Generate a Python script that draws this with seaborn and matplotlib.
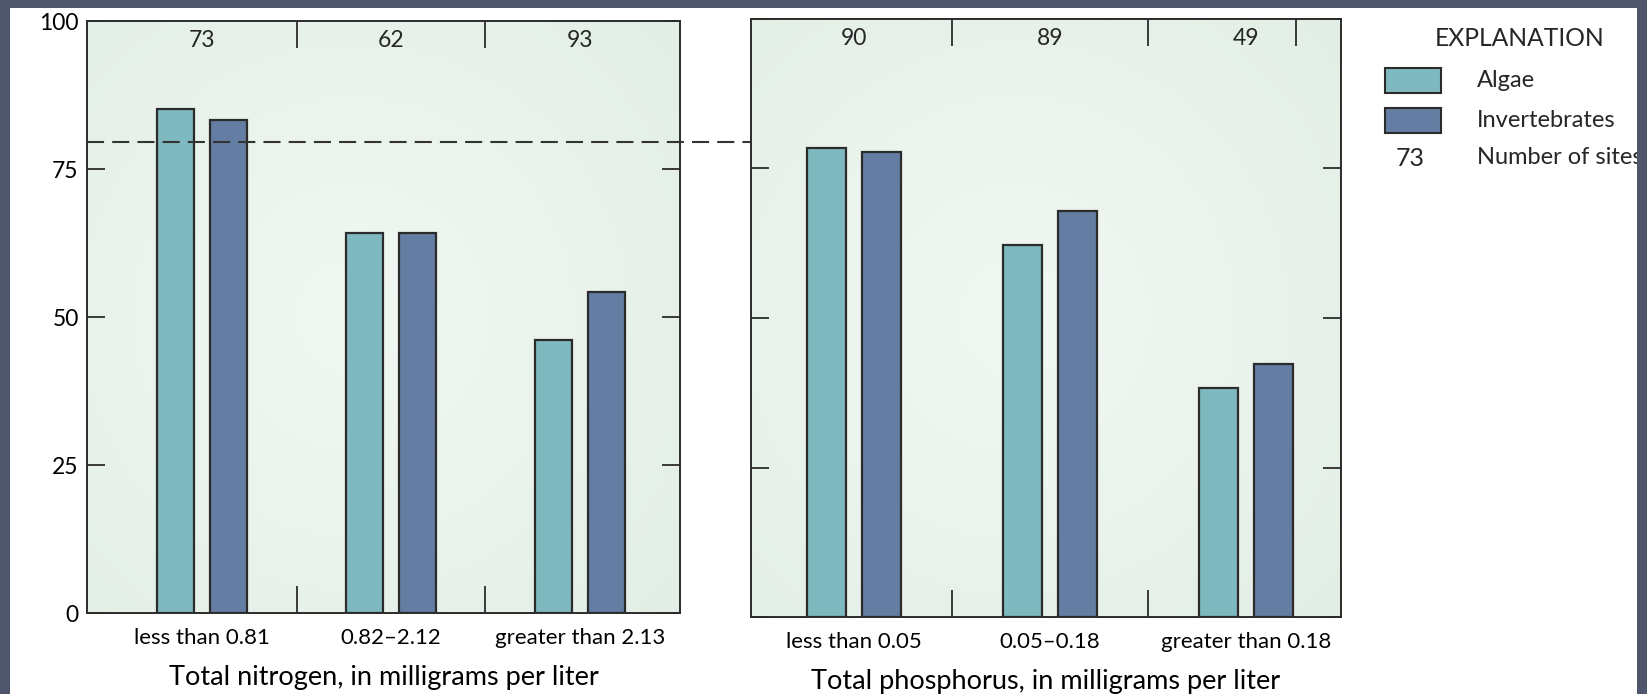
import numpy as np
import pandas as pd
import matplotlib.pyplot as plt
import seaborn as sns
from matplotlib.colors import LinearSegmentedColormap
from matplotlib.patches import Rectangle

# values (percent of sites)
nitrogen_classes = ["less than 0.81", "0.82–2.12", "greater than 2.13"]
nitrogen_sites = [73, 62, 93]
nitrogen_algae = [85.1, 64.2, 46.1]
nitrogen_invert = [83.3, 64.2, 54.2]

phosphorus_classes = ["less than 0.05", "0.05–0.18", "greater than 0.18"]
phosphorus_sites = [90, 89, 49]
phosphorus_algae = [78.4, 62.2, 38.3]
phosphorus_invert = [77.8, 67.9, 42.3]

threshold = 79.6
groups = ["Algae", "Invertebrates"]
colors = {"Algae": "#7fb9c0", "Invertebrates": "#647ea3"}
ink = "#2b2b2b"


def long_table(classes, algae, invert):
    return pd.DataFrame({
        "class": classes * 2,
        "group": [groups[0]] * len(classes) + [groups[1]] * len(classes),
        "percent": algae + invert,
    })


sns.set_theme(style="white")
plt.rcParams["font.family"] = ["Lato", "DejaVu Sans"]

W, H = 1647, 694
fig = plt.figure(figsize=(W / 100, H / 100), dpi=100)
fig.patch.set_facecolor("white")


def px_axes(x0, y0, x1, y1):
    return fig.add_axes([x0 / W, 1 - y1 / H, (x1 - x0) / W, (y1 - y0) / H])


ax_n = px_axes(87, 21, 680, 613)
ax_p = px_axes(751, 19, 1341, 617)

bg_cmap = LinearSegmentedColormap.from_list("bg", ["#f2f8f3", "#e2eee5"])
yy, xx = np.mgrid[0:1:200j, 0:1:200j]
glow = np.clip(np.hypot((xx - 0.45) / 0.75, (yy - 0.5) / 0.75), 0, 1)

panels = [
    (ax_n, nitrogen_classes, nitrogen_sites, nitrogen_algae, nitrogen_invert,
     "Total nitrogen, in milligrams per liter", (-0.61, 2.53), [0.5, 1.5], [0.5, 1.5]),
    (ax_p, phosphorus_classes, phosphorus_sites, phosphorus_algae, phosphorus_invert,
     "Total phosphorus, in milligrams per liter", (-0.525, 2.485), [0.5, 1.5], [0.5, 1.5, 2.255]),
]

for ax, classes, sites, algae, invert, xlabel, xlim, bottom_seps, top_seps in panels:
    df = long_table(classes, algae, invert)
    sns.barplot(data=df, x="class", y="percent", hue="group", order=classes,
                hue_order=groups, palette=colors, saturation=1, width=0.56, gap=0.3,
                edgecolor=ink, linewidth=1.6, legend=False, ax=ax, zorder=2)
    ax.imshow(glow, extent=(xlim[0], xlim[1], 0, 100), aspect="auto",
              cmap=bg_cmap, zorder=0, interpolation="bilinear")
    ax.set_xlim(*xlim)
    ax.set_ylim(0, 100)
    ax.set_yticks([0, 25, 50, 75, 100])
    ax.tick_params(axis="y", direction="in", length=13, width=1.3, color=ink,
                   left=True, right=True, labelsize=16.5, pad=6, labelcolor="black")
    ax.tick_params(axis="x", length=0, pad=11, labelsize=16, labelcolor="black")
    ax.set_xlabel(xlabel, fontsize=19.5, labelpad=12, color="black")
    ax.set_ylabel("")
    for s in ax.spines.values():
        s.set_visible(True)
        s.set_color(ink)
        s.set_linewidth(1.4)

    h = 27 / 592
    trans = ax.get_xaxis_transform()
    ax.vlines(bottom_seps, 0, h, transform=trans, colors=ink, lw=1.3, zorder=3)
    ax.vlines(top_seps, 1 - h, 1, transform=trans, colors=ink, lw=1.3, zorder=3)
    for i, n in enumerate(sites):
        ax.text(i, 0.967, str(n), transform=trans, ha="center", va="center", fontsize=16.5)

ax_p.tick_params(axis="y", labelleft=False)

# dashed reference line runs across both panels
pos_n, pos_p = ax_n.get_position(), ax_p.get_position()
span = (pos_p.x1 - pos_n.x0) / pos_n.width
ax_n.axhline(threshold, xmin=0, xmax=span, clip_on=False, color="#333333",
             lw=1.5, linestyle=(0, (8.2, 3.9)), zorder=4)

# explanation block
fig.text(1520 / W, 1 - 39 / H, "EXPLANATION", ha="center", va="center", fontsize=17.7)
for name, top in zip(groups, [68, 108]):
    fig.add_artist(Rectangle((1385 / W, 1 - (top + 25) / H), 56 / W, 25 / H,
                             transform=fig.transFigure, facecolor=colors[name],
                             edgecolor=ink, lw=1.5))
    fig.text(1477 / W, 1 - (top + 12.5) / H, name, va="center", fontsize=17)
fig.text(1410 / W, 1 - 158 / H, str(nitrogen_sites[0]), ha="center", va="center", fontsize=18)
fig.text(1477 / W, 1 - 158 / H, "Number of sites", va="center", fontsize=17)

# dark outer frame
frame = "#4f566b"
for x0, y0, w, hgt in [(0, 0, 10, H), (1637, 0, 10, H), (0, 0, W, 8)]:
    fig.add_artist(Rectangle((x0 / W, 1 - (y0 + hgt) / H), w / W, hgt / H,
                             transform=fig.transFigure, facecolor=frame,
                             edgecolor="none", zorder=10))

fig.savefig("out.png", dpi=100)
